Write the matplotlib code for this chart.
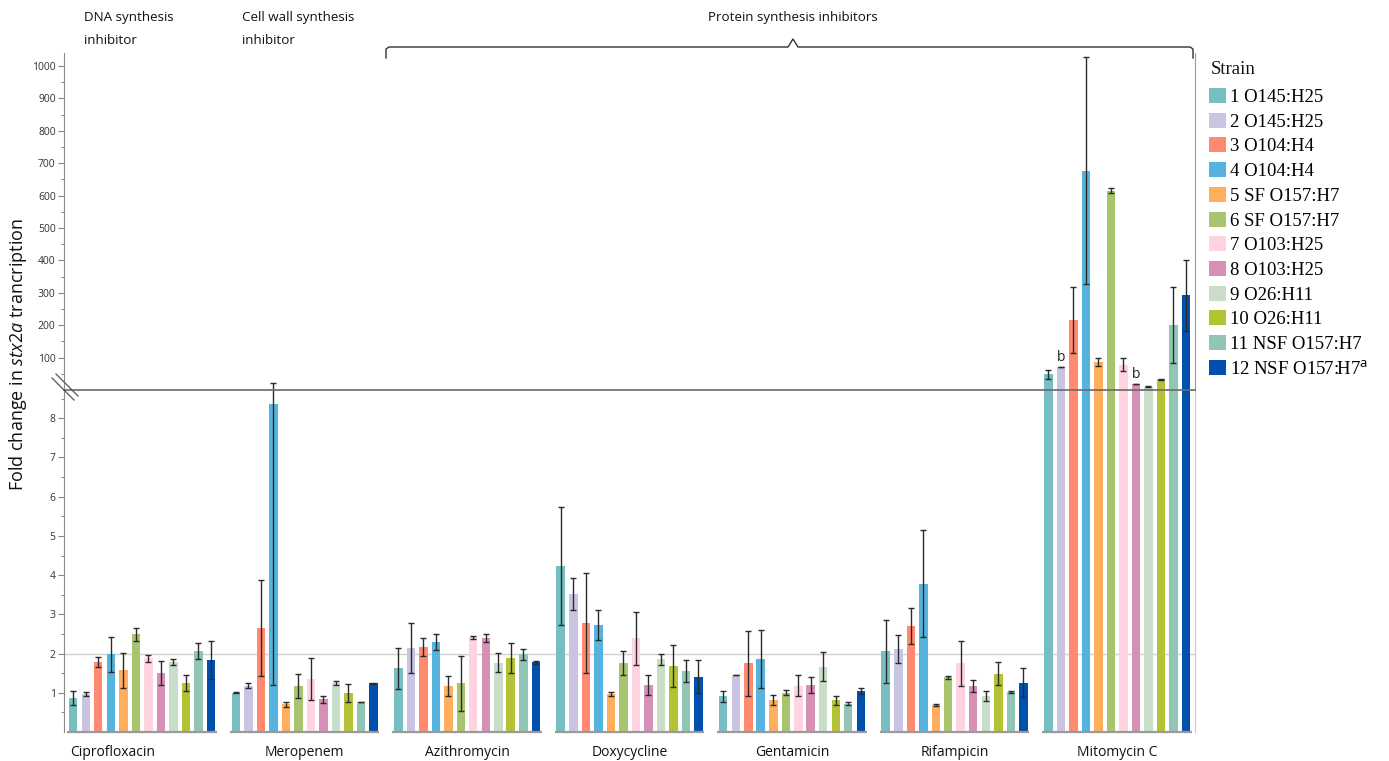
import matplotlib
matplotlib.use("Agg")
import matplotlib.pyplot as plt
import numpy as np
from matplotlib.patches import Patch
from matplotlib.lines import Line2D

plt.rcParams['font.family'] = ['Open Sans', 'DejaVu Sans']
plt.rcParams['mathtext.fontset'] = 'custom'
plt.rcParams['mathtext.rm'] = 'Open Sans'
plt.rcParams['mathtext.it'] = 'Open Sans:italic'

W, H = 1389, 761

# ---------------- data ----------------
antibiotics = ["Ciprofloxacin", "Meropenem", "Azithromycin", "Doxycycline",
               "Gentamicin", "Rifampicin", "Mitomycin C"]
strains = ["1 O145:H25", "2 O145:H25", "3 O104:H4", "4 O104:H4",
           "5 SF O157:H7", "6 SF O157:H7", "7 O103:H25", "8 O103:H25",
           "9 O26:H11", "10 O26:H11", "11 NSF O157:H7",
           "12 NSF O157:H7$^{\\mathrm{a}}$"]
colors = ["#76BEC1", "#C9C4E1", "#FF8A70", "#56B3DD", "#FFAE5D", "#A9C46E",
          "#FFD4E0", "#D690B6", "#C8DEC8", "#B4C236", "#91C5B6", "#0050AE"]

cipro = [0.87, 0.97, 1.78, 1.98, 1.57, 2.49, 1.88, 1.51, 1.79, 1.25, 2.07, 1.84]
cipro_err = [0.17, 0.06, 0.12, 0.44, 0.45, 0.17, 0.085, 0.31, 0.08, 0.20, 0.20, 0.48]

mero = [1.00, 1.18, 2.66, 8.36, 0.71, 1.18, 1.35, 0.84, 1.25, 1.00, 0.77, 1.24]
mero_err = [0.01, 0.06, 1.22, 7.16, 0.06, 0.31, 0.54, 0.09, 0.06, 0.23, 0.0, 0.02]
mero_err_hi = [0.01, 0.06, 1.22, 0.55, 0.06, 0.31, 0.54, 0.09, 0.06, 0.23, 0.0, 0.02]

azithro = [1.62, 2.14, 2.17, 2.30, 1.17, 1.24, 2.41, 2.40, 1.77, 1.88, 1.98, 1.78]
azithro_err = [0.53, 0.63, 0.22, 0.21, 0.26, 0.70, 0.05, 0.11, 0.24, 0.38, 0.14, 0.04]

doxy = [4.23, 3.52, 2.78, 2.72, 0.97, 1.76, 2.39, 1.20, 1.85, 1.68, 1.55, 1.41]
doxy_err = [1.50, 0.40, 1.28, 0.38, 0.04, 0.31, 0.68, 0.25, 0.15, 0.53, 0.28, 0.42]

genta = [0.91, 1.45, 1.75, 1.86, 0.82, 1.00, 1.18, 1.20, 1.66, 0.81, 0.72, 1.05]
genta_err = [0.14, 0.0, 0.82, 0.73, 0.12, 0.06, 0.27, 0.21, 0.37, 0.12, 0.04, 0.08]

rifa = [2.06, 2.12, 2.70, 3.78, 0.69, 1.40, 1.75, 1.17, 0.92, 1.49, 1.02, 1.26]
rifa_err = [0.80, 0.35, 0.45, 1.36, 0.03, 0.04, 0.57, 0.16, 0.12, 0.29, 0.03, 0.38]

mito = [48, 72, 216, 677, 86, 615, 78, 20, 10, 33, 201, 292]
mito_err = [13, 0, 103, 351, 13, 7, 20, 0, 2, 2, 118, 109]
mito_b_marks = [1, 7]  # strains flagged with "b"

lower_vals = [cipro, mero, azithro, doxy, genta, rifa]
lower_err_lo = [cipro_err, mero_err, azithro_err, doxy_err, genta_err, rifa_err]
lower_err_hi = [cipro_err, mero_err_hi, azithro_err, doxy_err, genta_err, rifa_err]

lower_yticks = [1, 2, 3, 4, 5, 6, 7, 8]
upper_yticks = [100, 200, 300, 400, 500, 600, 700, 800, 900, 1000]

# ---------------- layout ----------------
def fx(px):
    return px / W

def fy(py):
    return 1 - py / H

fig = plt.figure(figsize=(W / 100, H / 100), dpi=100)
ax_lo = fig.add_axes([fx(64), fy(732), fx(1195) - fx(64), fy(390) - fy(732)])
ax_up = fig.add_axes([fx(64), fy(390), fx(1195) - fx(64), fy(53) - fy(390)])

n = len(strains)
slot = 12.5 / 162.5
width = 0.68 * slot
offsets = (np.arange(n) - (n - 1) / 2) * slot
xlim = (-0.48, 6.48)

err_kw = dict(fmt='none', ecolor='#2a2a2a', elinewidth=1.0, capsize=2.2, capthick=1.0)

# lower panel
for g, (vals, elo, ehi) in enumerate(zip(lower_vals, lower_err_lo, lower_err_hi)):
    xs = g + offsets
    ax_lo.bar(xs, vals, width=width, color=colors, zorder=2)
    ax_lo.errorbar(xs, vals, yerr=[elo, ehi], zorder=3, clip_on=False, **err_kw)
# mitomycin in lower panel (clipped, full height)
ax_lo.bar(6 + offsets, mito, width=width, color=colors, zorder=2)

ax_lo.set_xlim(*xlim)
ax_lo.set_ylim(0, 8.72)
ax_lo.axhline(2, color='#d0d0d0', lw=1.0, zorder=0)
for g in range(len(antibiotics)):
    ax_lo.plot([g + offsets[0] - width / 2 - 0.012, g + offsets[-1] + width / 2 + 0.012],
               [0, 0], color='#9a9a9a', lw=1.6, clip_on=False, zorder=4,
               solid_capstyle='butt')

# upper panel (Mitomycin C only)
xs = 6 + offsets
ax_up.bar(xs, mito, width=width, color=colors, zorder=2)
ax_up.errorbar(xs, mito, yerr=mito_err, zorder=3, **err_kw)
for k in mito_b_marks:
    ax_up.text(xs[k], mito[k] + 4, "b", ha='center', va='bottom', fontsize=10,
               color='#222222')
ax_up.set_xlim(*xlim)
ax_up.set_ylim(0, 1040)

for ax in (ax_lo, ax_up):
    ax.set_xticks([])
    ax.tick_params(axis='y', which='major', length=4, width=0.8, color='#888888',
                   labelsize=7.5, labelcolor='#333333', pad=2)
    ax.tick_params(axis='y', which='minor', length=2.5, width=0.8, color='#888888')
    ax.spines['left'].set_color('#8a8a8a')
    ax.spines['right'].set_color('#9a9a9a')
    ax.spines['top'].set_visible(False)
    ax.patch.set_alpha(0)

ax_lo.spines['bottom'].set_visible(False)
ax_lo.spines['right'].set_color('#c8c8c8')
ax_up.spines['bottom'].set_color('#6a6a6a')
ax_up.spines['bottom'].set_linewidth(1.2)

ax_lo.set_yticks(lower_yticks)
ax_lo.set_yticks(np.arange(0.5, 8.6, 1.0), minor=True)
ax_up.set_yticks(upper_yticks)
ax_up.set_yticks(np.arange(50, 1001, 100), minor=True)

# category labels
label_x = [-0.18, 1, 2, 3, 4, 5, 6]
for lx, name in zip(label_x, antibiotics):
    ax_lo.text(lx, -0.52, name, ha='center', va='center', fontsize=10, color='#111111')

# y label
fig.text(fx(18), fy(355), "Fold change in $\\it{stx2a}$ trancription",
         rotation=90, ha='center', va='center', fontsize=13, color='#111111')

# top annotations
ann_fs = 9.6
fig.text(fx(84), fy(18), "DNA synthesis", ha='left', va='center', fontsize=ann_fs, color='#111111')
fig.text(fx(84), fy(40), "inhibitor", ha='left', va='center', fontsize=ann_fs, color='#111111')
fig.text(fx(242), fy(18), "Cell wall synthesis", ha='left', va='center', fontsize=ann_fs, color='#111111')
fig.text(fx(242), fy(40), "inhibitor", ha='left', va='center', fontsize=ann_fs, color='#111111')
fig.text(fx(793), fy(18), "Protein synthesis inhibitors", ha='center', va='center',
         fontsize=ann_fs, color='#111111')

# bracket
bx = [386, 386, 389, 788, 793, 798, 1190, 1193, 1193]
by = [58, 49, 47, 47, 39, 47, 47, 49, 58]
fig.add_artist(Line2D([fx(v) for v in bx], [fy(v) for v in by], color='#333333', lw=1.0))

# axis break marks
for d in (0, 4):
    fig.add_artist(Line2D([fx(52 + d), fx(74 + d)], [fy(378 - d), fy(400 - d)],
                          color='#555555', lw=0.9))

# legend
fig.text(fx(1211), fy(70), "Strain", ha='left', va='center',
         family='Liberation Serif', fontsize=13.5, color='#111111')
handles = [Patch(facecolor=c, edgecolor='none') for c in colors]
leg = fig.legend(handles, strains, loc='upper left', bbox_to_anchor=(fx(1209), fy(88)),
                 frameon=False, prop={'family': 'Liberation Serif', 'size': 13.5},
                 handlelength=0.9, handleheight=0.85, handletextpad=0.2,
                 labelspacing=0.36, borderaxespad=0, borderpad=0)

fig.savefig("out.png", dpi=100)
